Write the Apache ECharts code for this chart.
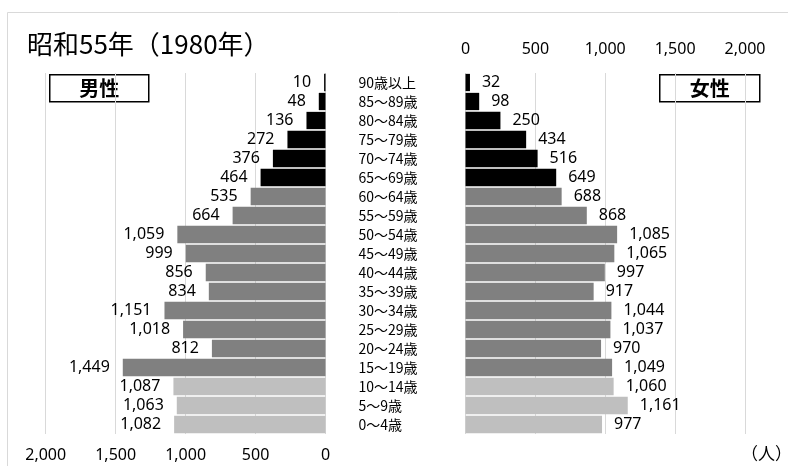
<!DOCTYPE html>
<html>
<head>
<meta charset="utf-8">
<script src="https://cdn.jsdelivr.net/npm/echarts@6/dist/echarts.min.js"></script>
<style>
  html, body { margin: 0; padding: 0; background: #fff; }
  #chart { width: 788px; height: 466px; }
</style>
</head>
<body>
<div id="chart"></div>
<script>
// 年齢階級（上から 90歳以上 → 0～4歳）
const ageGroups = ['90歳以上', '85～89歳', '80～84歳', '75～79歳', '70～74歳', '65～69歳',
  '60～64歳', '55～59歳', '50～54歳', '45～49歳', '40～44歳', '35～39歳', '30～34歳',
  '25～29歳', '20～24歳', '15～19歳', '10～14歳', '5～9歳', '0～4歳'];

// 人口（人）
const male = [10, 48, 136, 272, 376, 464, 535, 664, 1059, 999, 856, 834, 1151, 1018, 812, 1449, 1087, 1063, 1082];
const female = [32, 98, 250, 434, 516, 649, 688, 868, 1085, 1065, 997, 917, 1044, 1037, 970, 1049, 1060, 1161, 977];

// 目盛り
const axisMin = 0;
const axisMax = 2000;
const axisStep = 500;

const titleText = '昭和55年（1980年）';
const maleText = '男性';
const femaleText = '女性';
const unitText = '（人）';

const numFont = '"Noto Sans", "Open Sans", sans-serif';
const cjkFont = '"Noto Sans CJK JP", sans-serif';

const fmt = v => Number(v).toLocaleString('en-US');

// 65歳以上：黒、15～64歳：灰、0～14歳：淡灰
function barColor(p) {
  const age = parseInt(ageGroups[p.dataIndex], 10);
  if (age >= 65) return '#000000';
  if (age >= 15) return '#808080';
  return '#bfbfbf';
}

const chart = echarts.init(document.getElementById('chart'), null, { renderer: 'canvas' });

const plotTop = 73, plotHeight = 361;

chart.setOption({
  animation: false,
  backgroundColor: '#ffffff',
  grid: [
    { left: 45.7, width: 279.8, top: plotTop, height: plotHeight, containLabel: false },
    { left: 465.5, width: 279.5, top: plotTop, height: plotHeight, containLabel: false }
  ],
  xAxis: [
    {
      gridIndex: 0, type: 'value', inverse: true, position: 'bottom',
      min: axisMin, max: axisMax, interval: axisStep,
      axisLine: { show: false }, axisTick: { show: false },
      splitLine: { show: true, lineStyle: { color: '#d9d9d9', width: 1 } },
      axisLabel: { formatter: fmt, fontSize: 16, fontFamily: numFont, color: '#000', margin: 13 }
    },
    {
      gridIndex: 1, type: 'value', position: 'top',
      min: axisMin, max: axisMax, interval: axisStep,
      axisLine: { show: false }, axisTick: { show: false },
      splitLine: { show: true, lineStyle: { color: '#d9d9d9', width: 1 } },
      axisLabel: { formatter: fmt, fontSize: 16, fontFamily: numFont, color: '#000', margin: 16 }
    }
  ],
  yAxis: [
    {
      gridIndex: 0, type: 'category', data: ageGroups, inverse: true, position: 'right',
      axisLine: { show: false }, axisTick: { show: false },
      axisLabel: { margin: 33, align: 'left', fontSize: 14, fontFamily: cjkFont, color: '#000' }
    },
    {
      gridIndex: 1, type: 'category', data: ageGroups, inverse: true,
      axisLine: { show: false }, axisTick: { show: false },
      axisLabel: { show: false }
    }
  ],
  series: [
    {
      name: maleText, type: 'bar', xAxisIndex: 0, yAxisIndex: 0,
      data: male, barCategoryGap: '9%',
      itemStyle: { color: barColor },
      label: {
        show: true, position: 'left', distance: 13, formatter: p => fmt(p.value),
        fontSize: 16, fontFamily: numFont, color: '#000'
      }
    },
    {
      name: femaleText, type: 'bar', xAxisIndex: 1, yAxisIndex: 1,
      data: female, barCategoryGap: '9%',
      itemStyle: { color: barColor },
      label: {
        show: true, position: 'right', distance: 12, formatter: p => fmt(p.value),
        fontSize: 16, fontFamily: numFont, color: '#000'
      }
    }
  ],
  graphic: [
    {
      type: 'rect', silent: true, z: -1,
      shape: { x: 7.5, y: 12.5, width: 800, height: 500 },
      style: { fill: 'none', stroke: '#d9d9d9', lineWidth: 1 }
    },
    {
      type: 'text', left: 27, top: 31,
      style: { text: titleText, font: '26px ' + cjkFont, fill: '#000' }
    },
    {
      type: 'group', left: 49, top: 74, z: 10,
      children: [
        { type: 'rect', shape: { x: 0, y: 0, width: 99, height: 27 },
          style: { fill: '#fff', stroke: '#000', lineWidth: 1.5 } },
        { type: 'text', x: 49.5, y: 13.5,
          style: { text: maleText, font: 'bold 20px ' + cjkFont, fill: '#000', align: 'center', verticalAlign: 'middle' } }
      ]
    },
    {
      type: 'group', left: 659, top: 74, z: 10,
      children: [
        { type: 'rect', shape: { x: 0, y: 0, width: 100, height: 27 },
          style: { fill: '#fff', stroke: '#000', lineWidth: 1.5 } },
        { type: 'text', x: 50, y: 13.5,
          style: { text: femaleText, font: 'bold 20px ' + cjkFont, fill: '#000', align: 'center', verticalAlign: 'middle' } }
      ]
    },
    {
      type: 'text', left: 741, top: 445,
      style: { text: unitText, font: '17px ' + cjkFont, fill: '#000' }
    }
  ]
});
</script>
</body>
</html>
